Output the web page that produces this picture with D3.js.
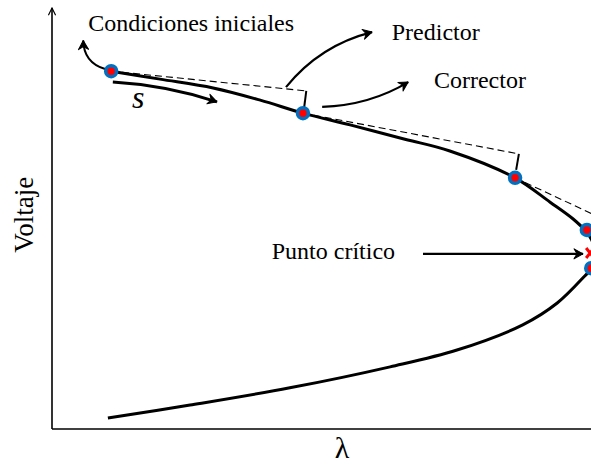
<!DOCTYPE html>
<html>
<head>
<meta charset="utf-8">
<script src="https://cdn.jsdelivr.net/npm/d3@7"></script>
<style>
  body { margin: 0; background: #fff; }
  svg { display: block; }
</style>
</head>
<body>
<script>
/* dimensions */
const width = 591, height = 465;

/* curve P-V (lambda, voltaje) */
const upperBranch = [
  [0.108, 0.852], [0.197, 0.833], [0.294, 0.812], [0.380, 0.783],
  [0.458, 0.752], [0.544, 0.724], [0.644, 0.690], [0.726, 0.662],
  [0.845, 0.598], [0.909, 0.540], [0.951, 0.500], [0.974, 0.471],
  [0.985, 0.450], [0.990, 0.426]
];
const lowerBranch = [
  [0.990, 0.426], [0.984, 0.383], [0.969, 0.360], [0.922, 0.300],
  [0.859, 0.248], [0.739, 0.188], [0.617, 0.148], [0.434, 0.098],
  [0.252, 0.057], [0.102, 0.026]
];
/* puntos calculados */
const solutionPoints = [
  [0.108, 0.852], [0.458, 0.752], [0.845, 0.598], [0.976, 0.474], [0.984, 0.383]
];
const criticalPoint = [0.982, 0.419];

/* pasos predictor (tangente) y corrector */
const predictorSteps = [
  [[0.108, 0.852], [0.464, 0.805]],
  [[0.458, 0.752], [0.852, 0.655]],
  [[0.845, 0.598], [1.009, 0.498]]
];
const correctorSteps = [
  [[0.464, 0.805], [0.460, 0.764]],
  [[0.852, 0.655], [0.847, 0.617]]
];

/* anotaciones: start, control, end of arrow + text */
const arrows = [
  {from: [0.097, 0.857], ctrl: [0.058, 0.872], to: [0.057, 0.925], w: 2},
  {from: [0.111, 0.826], ctrl: [0.206, 0.819], to: [0.301, 0.779], w: 3},
  {from: [0.427, 0.814], ctrl: [0.489, 0.914], to: [0.584, 0.945], w: 2.2},
  {from: [0.493, 0.767], ctrl: [0.580, 0.771], to: [0.650, 0.826], w: 2.2},
  {from: [0.677, 0.417], ctrl: [0.823, 0.417], to: [0.969, 0.417], w: 2.2}
];
const labels = [
  {text: "Condiciones iniciales", pos: [0.066, 0.948]},
  {text: "Predictor", pos: [0.620, 0.926]},
  {text: "Corrector", pos: [0.697, 0.812]},
  {text: "Punto crítico", pos: [0.401, 0.405]}
];

/* scales */
const x = d3.scaleLinear().domain([0, 1]).range([52, 600]);
const y = d3.scaleLinear().domain([0, 1]).range([429, 9]);

const svg = d3.select("body").append("svg")
  .attr("width", width)
  .attr("height", height);

const defs = svg.append("defs");
defs.append("marker")
  .attr("id", "head")
  .attr("viewBox", "-1 -6 12 12")
  .attr("refX", 9).attr("refY", 0)
  .attr("markerWidth", 12).attr("markerHeight", 12)
  .attr("markerUnits", "userSpaceOnUse")
  .attr("orient", "auto")
  .append("path")
  .attr("d", "M0,-5 L9,0 L0,5 L3,0 Z")
  .attr("fill", "#000")
  .attr("stroke", "#000")
  .attr("stroke-width", 1)
  .attr("stroke-linejoin", "round");

defs.append("marker")
  .attr("id", "axhead")
  .attr("viewBox", "-1 -5 10 10")
  .attr("refX", 8).attr("refY", 0)
  .attr("markerWidth", 9).attr("markerHeight", 9)
  .attr("markerUnits", "userSpaceOnUse")
  .attr("orient", "auto")
  .append("path")
  .attr("d", "M0,-4 L8,0 L0,4")
  .attr("fill", "none")
  .attr("stroke", "#000")
  .attr("stroke-width", 1.3);

/* axes */
svg.append("line")
  .attr("x1", x(0)).attr("y1", y(0))
  .attr("x2", x(0)).attr("y2", y(1) - 1)
  .attr("stroke", "#000").attr("stroke-width", 1.6)
  .attr("marker-end", "url(#axhead)");
svg.append("line")
  .attr("x1", x(0)).attr("y1", y(0))
  .attr("x2", width).attr("y2", y(0))
  .attr("stroke", "#000").attr("stroke-width", 1.6);

/* curve */
const line = d3.line()
  .x(d => x(d[0])).y(d => y(d[1]))
  .curve(d3.curveCatmullRom.alpha(0.5));

svg.append("path")
  .datum(upperBranch.concat(lowerBranch.slice(1)))
  .attr("d", line)
  .attr("fill", "none")
  .attr("stroke", "#000")
  .attr("stroke-width", 3);

/* predictor / corrector */
svg.selectAll(".pred")
  .data(predictorSteps)
  .enter().append("line")
  .attr("class", "pred")
  .attr("x1", d => x(d[0][0])).attr("y1", d => y(d[0][1]))
  .attr("x2", d => x(d[1][0])).attr("y2", d => y(d[1][1]))
  .attr("stroke", "#000")
  .attr("stroke-width", 1.1)
  .attr("stroke-dasharray", "7,4");

svg.selectAll(".corr")
  .data(correctorSteps)
  .enter().append("line")
  .attr("class", "corr")
  .attr("x1", d => x(d[0][0])).attr("y1", d => y(d[0][1]))
  .attr("x2", d => x(d[1][0])).attr("y2", d => y(d[1][1]))
  .attr("stroke", "#000")
  .attr("stroke-width", 2);

/* arrows */
svg.selectAll(".arrow")
  .data(arrows)
  .enter().append("path")
  .attr("class", "arrow")
  .attr("d", d => `M${x(d.from[0])},${y(d.from[1])} Q${x(d.ctrl[0])},${y(d.ctrl[1])} ${x(d.to[0])},${y(d.to[1])}`)
  .attr("fill", "none")
  .attr("stroke", "#000")
  .attr("stroke-width", d => d.w)
  .attr("marker-end", "url(#head)");

/* textos */
svg.append("text")
  .attr("transform", `translate(33,${y(0.51)}) rotate(-90)`)
  .attr("text-anchor", "middle")
  .attr("font-family", "Liberation Serif")
  .attr("font-size", 27)
  .text("Voltaje");

svg.append("text")
  .attr("x", 342).attr("y", 458)
  .attr("text-anchor", "middle")
  .attr("font-family", "Liberation Serif")
  .attr("font-size", 30)
  .text("λ");

svg.selectAll(".note")
  .data(labels)
  .enter().append("text")
  .attr("class", "note")
  .attr("x", d => x(d.pos[0])).attr("y", d => y(d.pos[1]))
  .attr("font-family", "Liberation Serif")
  .attr("font-size", 24)
  .text(d => d.text);

svg.append("text")
  .attr("x", 132).attr("y", 108)
  .attr("font-family", "Liberation Serif")
  .attr("font-style", "italic")
  .attr("font-size", 32)
  .text("s");

/* puntos */
svg.selectAll(".pt")
  .data(solutionPoints)
  .enter().append("circle")
  .attr("class", "pt")
  .attr("cx", d => x(d[0])).attr("cy", d => y(d[1]))
  .attr("r", 5.5)
  .attr("fill", "#ff0000")
  .attr("stroke", "#0070c0")
  .attr("stroke-width", 3.5);

/* punto critico (x roja) */
const cx = x(criticalPoint[0]), cy = y(criticalPoint[1]);
svg.append("path")
  .attr("d", `M${cx - 4},${cy - 5} L${cx + 4},${cy + 5} M${cx + 4},${cy - 5} L${cx - 4},${cy + 5}`)
  .attr("stroke", "#ff0000")
  .attr("stroke-width", 3);
</script>
</body>
</html>
